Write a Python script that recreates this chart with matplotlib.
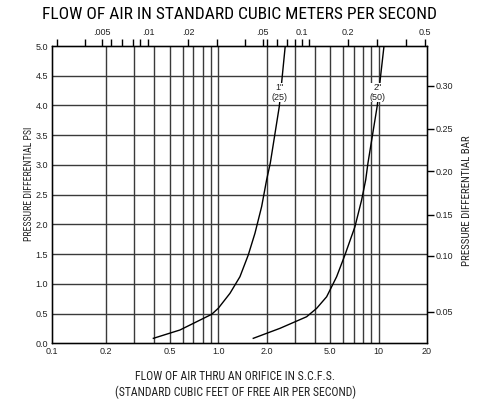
import matplotlib
matplotlib.use("Agg")
import matplotlib.pyplot as plt

# --- data ---
# 1" (25 mm) orifice: flow in scfs vs pressure differential in psi
flow_1in = [0.394, 0.577, 0.910, 1.0, 1.183, 1.365, 1.538, 1.693, 1.864, 2.002, 2.11, 2.40, 2.615]
psi_1in = [0.084, 0.224, 0.488, 0.589, 0.841, 1.12, 1.485, 1.85, 2.30, 2.75, 3.03, 3.98, 5.0]
# 2" (50 mm) orifice
flow_2in = [1.653, 2.424, 3.555, 4.104, 4.737, 5.467, 6.158, 7.108, 7.826, 8.30, 8.57, 9.80, 10.78]
psi_2in = [0.084, 0.252, 0.447, 0.588, 0.783, 1.12, 1.485, 1.96, 2.41, 2.75, 3.03, 4.00, 4.99]

bottom_ticks = [0.092, 0.2, 0.5, 1.0, 2.0, 5.0, 10.0, 20.0]
bottom_labels = ["0.1", "0.2", "0.5", "1.0", "2.0", "5.0", "10", "20"]
vgrid = [0.2, 0.3, 0.4, 0.5, 0.6, 0.7, 0.8, 0.9, 1, 2, 3, 4, 5, 6, 7, 8, 9, 10]

psi_ticks = [0.0, 0.5, 1.0, 1.5, 2.0, 2.5, 3.0, 3.5, 4.0, 4.5, 5.0]

# top scale (m3/s) as drawn on the original, positions in scfs
top_pos = [0.0984, 0.1477, 0.1877, 0.2145, 0.2501, 0.2928, 0.3252, 0.3663, 0.650, 0.977,
           1.467, 1.891, 2.002, 2.331, 2.668, 3.006, 3.308, 3.690, 6.457, 9.788, 14.77, 19.41]
top_labels = ["", "", ".005", "", "", "", "", ".01", ".02", "",
              "", ".05", "", "", "", "", "0.1", "", "0.2", "", "", "0.5"]

# right scale (bar) as drawn, positions in psi
bar_pos = [0.53, 1.47, 2.16, 2.89, 3.61, 4.33]
bar_labels = ["0.05", "0.10", "0.15", "0.20", "0.25", "0.30"]

cond = ["Liberation Sans Narrow", "Roboto Condensed", "DejaVu Sans"]
num = ["Liberation Sans", "DejaVu Sans"]
ink = "#222222"

fig = plt.figure(figsize=(4.78, 4.05), dpi=100)
ax = fig.add_axes([0.1088, 0.1523, 0.7845, 0.7341])
ax.set_xscale("log")
ax.set_xlim(0.092, 20)
ax.set_ylim(0, 5)

for v in vgrid:
    ax.axvline(v, color="#3a3a3a", lw=1.0, zorder=1)
for p in psi_ticks[1:-1]:
    ax.axhline(p, color="#3a3a3a", lw=1.0, zorder=1)

ax.plot(flow_1in, psi_1in, color="black", lw=1.0, zorder=3)
ax.plot(flow_2in, psi_2in, color="black", lw=1.0, zorder=3)

for x, y, s in [(2.42, 4.22, '1"\n(25)'), (9.9, 4.22, '2"\n(50)')]:
    ax.text(x, y, s, ha="center", va="center", fontsize=6.5, family=num, color=ink,
            linespacing=1.1, zorder=4,
            bbox=dict(facecolor="white", edgecolor="none", pad=0.3))

ax.set_xticks(bottom_ticks)
ax.set_xticklabels(bottom_labels, family=num, fontsize=6.5, color=ink)
ax.xaxis.set_minor_locator(matplotlib.ticker.NullLocator())
ax.set_yticks(psi_ticks)
ax.set_yticklabels([f"{p:.1f}" for p in psi_ticks], family=num, fontsize=6.5, color=ink)
ax.tick_params(axis="both", length=0, pad=3)

for sp in ax.spines.values():
    sp.set_linewidth(1.0)
    sp.set_color("black")

top = ax.twiny()
top.set_xscale("log")
top.set_xlim(ax.get_xlim())
top.set_xticks(top_pos)
top.set_xticklabels(top_labels, family=num, fontsize=6.5, color=ink)
top.xaxis.set_minor_locator(matplotlib.ticker.NullLocator())
top.tick_params(axis="x", direction="out", length=5, width=1.0, pad=1.5)

right = ax.twinx()
right.set_ylim(0, 5)
right.set_yticks(bar_pos)
right.set_yticklabels(bar_labels, family=num, fontsize=6.5, color=ink)
right.tick_params(axis="y", direction="out", length=5, width=1.0, pad=1)

kw = dict(family=cond, stretch="condensed")
fig.text(0.5, 0.965, "FLOW OF AIR IN STANDARD CUBIC METERS PER SECOND",
         ha="center", va="center", fontsize=12.5, color="black", **kw)
fig.text(0.492, 0.07, "FLOW OF AIR THRU AN ORIFICE IN S.C.F.S.",
         ha="center", va="center", fontsize=8.5, color=ink, **kw)
fig.text(0.492, 0.032, "(STANDARD CUBIC FEET OF FREE AIR PER SECOND)",
         ha="center", va="center", fontsize=8.5, color=ink, **kw)
fig.text(0.061, 0.546, "PRESSURE DIFFERENTIAL PSI", rotation=90,
         ha="center", va="center", fontsize=7, color=ink, **kw)
fig.text(0.977, 0.504, "PRESSURE DIFFERENTIAL BAR", rotation=90,
         ha="center", va="center", fontsize=7.8, color=ink, **kw)

fig.savefig("out.png", dpi=100)
